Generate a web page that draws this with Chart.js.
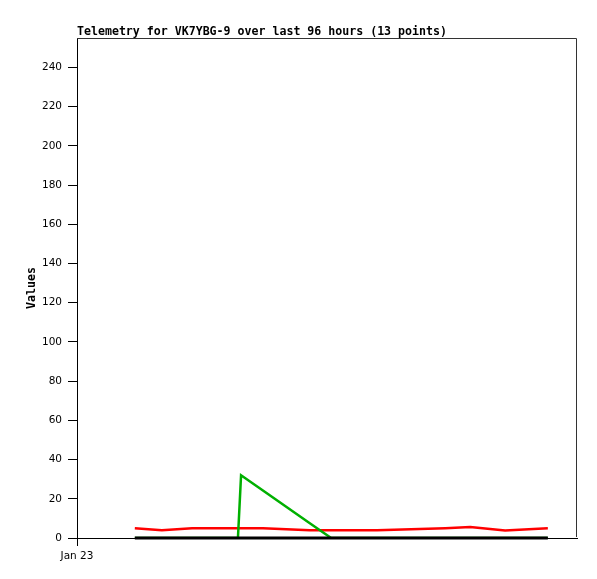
<!DOCTYPE html>
<html>
<head>
<meta charset="utf-8">
<script src="https://cdn.jsdelivr.net/npm/chart.js@4.4.1/dist/chart.umd.min.js"></script>
<style>
  html, body { margin: 0; padding: 0; background: #fff; }
  #wrap { width: 597px; height: 579px; }
</style>
</head>
<body>
<div id="wrap"><canvas id="chart" width="597" height="579"></canvas></div>
<script>
// Hours since the start of the plotted window (Jan 23 00:00)
const hours = [11.1, 16.3, 22.1, 30.9, 31.5, 35.7, 44.7, 48.8, 57.6, 70.7, 75.5, 82.2, 90.4];
const redValues = [5.0, 4.0, 5.0, 5.0, 5.0, 5.0, 4.0, 4.0, 4.0, 5.0, 5.6, 3.8, 5.0];
const greenValues = [0, 0, 0, 0, 32, 24.2, 7.5, 0, 0, 0, 0, 0, 0];
const blackValues = [0, 0, 0, 0, 0, 0, 0, 0, 0, 0, 0, 0, 0];
const xTickLabels = ['Jan 23'];
const titleText = 'Telemetry for VK7YBG-9 over last 96 hours (13 points)';

const toPoints = vals => vals.map((v, i) => ({ x: hours[i], y: v }));

// Title plus the top and right edges of the plot frame
const framePlugin = {
    id: 'frame',
    beforeDatasetsDraw(chart) {
        const { ctx, chartArea } = chart;
        ctx.save();
        ctx.strokeStyle = '#333';
        ctx.lineWidth = 1;
        ctx.beginPath();
        ctx.moveTo(chartArea.left, chartArea.top + 0.5);
        ctx.lineTo(chartArea.right - 0.5, chartArea.top + 0.5);
        ctx.lineTo(chartArea.right - 0.5, chartArea.bottom - 1);
        ctx.stroke();
        ctx.fillStyle = '#000';
        ctx.font = 'bold 11.6px "DejaVu Sans Mono"';
        ctx.textBaseline = 'alphabetic';
        ctx.fillText(titleText, chartArea.left, chartArea.top - 3);
        ctx.restore();
    }
};

const ctx = document.getElementById('chart').getContext('2d');
new Chart(ctx, {
    type: 'line',
    data: {
        datasets: [
            { data: toPoints(blackValues), borderColor: '#000', borderWidth: 3, clip: 4 },
            { data: toPoints(greenValues), borderColor: '#00b000', borderWidth: 2.5 },
            { data: toPoints(redValues), borderColor: '#ff0000', borderWidth: 2.5 }
        ]
    },
    options: {
        responsive: false,
        animation: false,
        layout: { padding: { left: 0, right: 20, top: 38, bottom: 0 } },
        elements: { point: { radius: 0 }, line: { tension: 0 } },
        plugins: { legend: { display: false }, tooltip: { enabled: false } },
        scales: {
            x: {
                type: 'linear',
                min: 0,
                max: 96,
                afterFit: scale => { scale.height = 41; },
                afterBuildTicks: scale => { scale.ticks = [{ value: 0 }]; },
                ticks: {
                    color: '#000',
                    font: { family: 'DejaVu Sans', size: 10.5 },
                    padding: 4,
                    maxRotation: 0,
                    callback: (v, i) => xTickLabels[i]
                },
                grid: { drawOnChartArea: false, tickLength: 8, color: '#000' },
                border: { color: '#000', width: 1 }
            },
            y: {
                min: 0,
                max: 255,
                afterFit: scale => { scale.width = 77; },
                afterBuildTicks: scale => {
                    scale.ticks = scale.ticks.filter(t => t.value % 20 === 0);
                },
                ticks: {
                    stepSize: 20,
                    color: '#000',
                    font: { family: 'DejaVu Sans', size: 10.5 },
                    padding: 6
                },
                title: {
                    display: true,
                    text: 'Values',
                    color: '#000',
                    font: { family: 'DejaVu Sans Mono', size: 11.6, weight: 'bold' },
                    padding: { top: 25, bottom: 0 }
                },
                grid: { drawOnChartArea: false, tickLength: 9, color: '#000' },
                border: { color: '#000', width: 1 }
            }
        }
    },
    plugins: [framePlugin]
});
</script>
</body>
</html>
